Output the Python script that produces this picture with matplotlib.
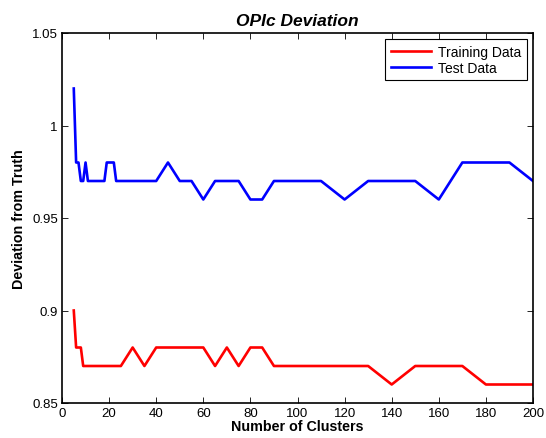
import matplotlib
matplotlib.use('Agg')
import matplotlib.pyplot as plt
from matplotlib.ticker import FixedLocator

plt.rcParams['font.family'] = ['Liberation Sans', 'DejaVu Sans']

# cluster counts
clusters = list(range(5, 26)) + list(range(30, 91, 5)) + list(range(100, 201, 10))

train = [0.90, 0.88, 0.88, 0.88, 0.87, 0.87, 0.87, 0.87, 0.87, 0.87, 0.87,
         0.87, 0.87, 0.87, 0.87, 0.87, 0.87, 0.87, 0.87, 0.87, 0.87,
         0.88, 0.87, 0.88, 0.88, 0.88, 0.88, 0.88, 0.87, 0.88, 0.87, 0.88, 0.88, 0.87,
         0.87, 0.87, 0.87, 0.87, 0.86, 0.87, 0.87, 0.87, 0.86, 0.86, 0.86]

test = [1.02, 0.98, 0.98, 0.97, 0.97, 0.98, 0.97, 0.97, 0.97, 0.97, 0.97,
        0.97, 0.97, 0.97, 0.98, 0.98, 0.98, 0.98, 0.97, 0.97, 0.97,
        0.97, 0.97, 0.97, 0.98, 0.97, 0.97, 0.96, 0.97, 0.97, 0.97, 0.96, 0.96, 0.97,
        0.97, 0.97, 0.96, 0.97, 0.97, 0.97, 0.96, 0.98, 0.98, 0.98, 0.97]

fig = plt.figure(figsize=(5.46, 4.39), dpi=100)
ax = fig.add_axes([62/546, 1 - 404/439, (533-62)/546, (404-34)/439])

ax.plot(clusters, train, color='#ff0000', linewidth=1.9, label='Training Data')
ax.plot(clusters, test, color='#0000ff', linewidth=1.9, label='Test Data')

ax.set_xlim(0, 200)
ax.set_ylim(0.85, 1.05)
ax.xaxis.set_major_locator(FixedLocator(range(0, 201, 20)))
ax.set_yticks([0.85, 0.9, 0.95, 1.0, 1.05])
ax.set_yticklabels(['0.85', '0.9', '0.95', '1', '1.05'])
ax.tick_params(direction='in', top=True, right=True, labelsize=9.5, length=4, width=0.6, pad=3)
for s in ax.spines.values():
    s.set_linewidth(1.2)

ax.set_xlabel('Number of Clusters', fontsize=10.3, fontweight='bold', labelpad=0)
ax.set_ylabel('Deviation from Truth', fontsize=10.3, fontweight='bold', labelpad=4)
ax.set_title('OPIc Deviation', fontsize=12.5, fontweight='bold', fontstyle='italic', pad=6)

leg = ax.legend(loc='upper right', fontsize=10, fancybox=False, framealpha=1,
                edgecolor='black', handlelength=2.9, borderpad=0.4, labelspacing=0.15,
                borderaxespad=0.45, handletextpad=0.5)
leg.get_frame().set_linewidth(0.8)

fig.savefig('out.png', dpi=100)
